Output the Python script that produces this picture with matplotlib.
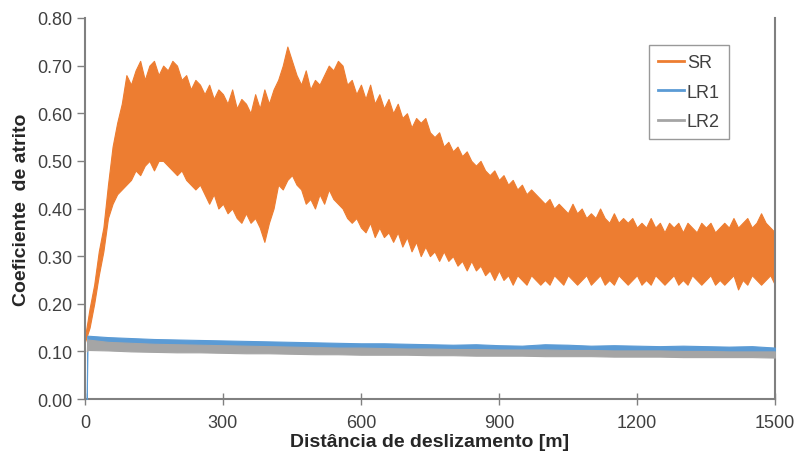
import matplotlib
matplotlib.use("Agg")
import matplotlib.pyplot as plt

plt.rcParams['font.family'] = ['Liberation Sans', 'DejaVu Sans']

# SR band: upper / lower envelope every 10 m
sr_x = list(range(0, 1501, 10))
sr_hi = [0.13, 0.19, 0.24, 0.31, 0.36, 0.45, 0.53, 0.58, 0.62, 0.68,
         0.66, 0.69, 0.71, 0.67, 0.70, 0.71, 0.68, 0.70, 0.69, 0.71,
         0.70, 0.67, 0.68, 0.65, 0.67, 0.66, 0.64, 0.66, 0.63, 0.65,
         0.64, 0.62, 0.65, 0.61, 0.63, 0.62, 0.60, 0.64, 0.61, 0.65,
         0.62, 0.65, 0.67, 0.70, 0.74, 0.71, 0.68, 0.66, 0.69, 0.65,
         0.67, 0.66, 0.68, 0.70, 0.69, 0.71, 0.70, 0.66, 0.67, 0.64,
         0.66, 0.63, 0.66, 0.62, 0.64, 0.61, 0.63, 0.60, 0.62, 0.59,
         0.60, 0.57, 0.59, 0.58, 0.59, 0.56, 0.55, 0.56, 0.53, 0.54,
         0.52, 0.53, 0.51, 0.52, 0.50, 0.49, 0.50, 0.48, 0.47, 0.48,
         0.46, 0.47, 0.45, 0.46, 0.44, 0.45, 0.43, 0.44, 0.43, 0.42,
         0.41, 0.42, 0.40, 0.41, 0.40, 0.39, 0.41, 0.39, 0.40, 0.38,
         0.39, 0.38, 0.40, 0.38, 0.37, 0.39, 0.37, 0.38, 0.37, 0.38,
         0.36, 0.37, 0.36, 0.38, 0.36, 0.37, 0.35, 0.37, 0.36, 0.37,
         0.35, 0.37, 0.36, 0.35, 0.37, 0.36, 0.37, 0.35, 0.36, 0.37,
         0.36, 0.38, 0.36, 0.37, 0.38, 0.36, 0.37, 0.39, 0.37, 0.36,
         0.35]
sr_lo = [0.12, 0.15, 0.20, 0.26, 0.31, 0.38, 0.41, 0.43, 0.44, 0.45,
         0.46, 0.48, 0.47, 0.49, 0.50, 0.48, 0.50, 0.50, 0.49, 0.48,
         0.47, 0.48, 0.46, 0.45, 0.44, 0.45, 0.43, 0.41, 0.43, 0.40,
         0.41, 0.39, 0.40, 0.38, 0.37, 0.39, 0.37, 0.38, 0.36, 0.33,
         0.37, 0.40, 0.45, 0.44, 0.46, 0.47, 0.45, 0.44, 0.41, 0.42,
         0.40, 0.43, 0.41, 0.44, 0.42, 0.41, 0.40, 0.38, 0.37, 0.38,
         0.36, 0.35, 0.37, 0.34, 0.36, 0.34, 0.35, 0.33, 0.35, 0.32,
         0.34, 0.31, 0.33, 0.30, 0.32, 0.30, 0.31, 0.29, 0.31, 0.29,
         0.30, 0.28, 0.29, 0.27, 0.29, 0.27, 0.28, 0.26, 0.27, 0.25,
         0.27, 0.25, 0.26, 0.24, 0.26, 0.25, 0.24, 0.26, 0.25, 0.24,
         0.25, 0.24, 0.26, 0.25, 0.24, 0.26, 0.25, 0.24, 0.25, 0.26,
         0.24, 0.25, 0.26, 0.24, 0.25, 0.24, 0.26, 0.25, 0.24, 0.25,
         0.26, 0.24, 0.25, 0.24, 0.26, 0.25, 0.24, 0.25, 0.26, 0.24,
         0.25, 0.24, 0.26, 0.25, 0.24, 0.25, 0.26, 0.24, 0.25, 0.24,
         0.25, 0.26, 0.23, 0.25, 0.24, 0.26, 0.25, 0.24, 0.25, 0.26,
         0.24]

# LR1 / LR2 bands, every 50 m (first points: start-up of the test)
lr_x = [4, 5] + list(range(50, 1501, 50))
lr1_hi = [0.0, 0.133, 0.130, 0.128, 0.126, 0.125, 0.124, 0.123, 0.122, 0.121,
          0.120, 0.119, 0.118, 0.117, 0.117, 0.116, 0.115, 0.114, 0.115, 0.113,
          0.112, 0.115, 0.114, 0.112, 0.113, 0.112, 0.111, 0.112, 0.111, 0.110,
          0.111, 0.108]
lr1_lo = [0.0, 0.118, 0.117, 0.115, 0.114, 0.113, 0.112, 0.111, 0.110, 0.109,
          0.108, 0.107, 0.106, 0.105, 0.104, 0.104, 0.103, 0.102, 0.102, 0.101,
          0.101, 0.102, 0.101, 0.100, 0.100, 0.099, 0.099, 0.099, 0.098, 0.098,
          0.097, 0.097]
lr2_hi = [0.100, 0.125, 0.120, 0.118, 0.116, 0.115, 0.114, 0.113, 0.112, 0.111,
          0.110, 0.109, 0.108, 0.108, 0.107, 0.106, 0.106, 0.105, 0.105, 0.104,
          0.104, 0.104, 0.103, 0.103, 0.102, 0.102, 0.102, 0.101, 0.101, 0.100,
          0.100, 0.100]
lr2_lo = [0.100, 0.103, 0.102, 0.100, 0.099, 0.098, 0.098, 0.097, 0.096, 0.096,
          0.095, 0.094, 0.094, 0.093, 0.093, 0.093, 0.092, 0.092, 0.091, 0.091,
          0.091, 0.090, 0.090, 0.090, 0.089, 0.089, 0.089, 0.088, 0.088, 0.088,
          0.088, 0.087]

orange, blue, grey = '#ED7D31', '#5B9BD5', '#A5A5A5'
txt = '#404040'

fig = plt.figure(figsize=(7.98, 4.52), dpi=100)
ax = fig.add_axes([0.1065, 0.115, 0.8645, 0.843])

ax.fill_between(sr_x, sr_lo, sr_hi, color=orange, lw=0.8, zorder=2)
ax.fill_between(lr_x, lr1_lo, lr1_hi, color=blue, lw=0.8, zorder=3)
ax.fill_between(lr_x, lr2_lo, lr2_hi, color=grey, lw=0.8, zorder=4)

ax.plot([], [], color=orange, lw=2, label='SR')
ax.plot([], [], color=blue, lw=2, label='LR1')
ax.plot([], [], color=grey, lw=2, label='LR2')

ax.set_xlim(0, 1500)
ax.set_ylim(0, 0.8)
ax.set_xticks([0, 300, 600, 900, 1200, 1500])
ax.set_yticks([i / 10 for i in range(9)])
ax.set_yticklabels(['%.2f' % (i / 10) for i in range(9)])

for s in ['left', 'bottom', 'right']:
    ax.spines[s].set_color('#808080')
    ax.spines[s].set_linewidth(1.5)
ax.spines['top'].set_visible(False)
ax.tick_params(axis='y', direction='out', length=6, width=1, color='#808080',
               labelsize=13, labelcolor=txt, pad=3)
ax.tick_params(axis='x', direction='inout', length=8, width=1, color='#808080',
               labelsize=13, labelcolor=txt, pad=7)
ax.tick_params(axis='y', which='both', right=False)

ax.set_xlabel('Distância de deslizamento [m]', fontsize=14, fontweight='bold',
              color='#262626', labelpad=1)
ax.set_ylabel('Coeficiente  de atrito', fontsize=14, fontweight='bold',
              color='#262626', labelpad=5)

leg = ax.legend(loc='upper right', bbox_to_anchor=(0.9135, 0.898),
                bbox_transform=fig.transFigure, fontsize=13, frameon=True,
                fancybox=False, edgecolor='#808080', handlelength=1.45,
                handletextpad=0.15, labelspacing=0.7, borderpad=0.5,
                borderaxespad=0)
leg.get_frame().set_linewidth(1)
for t in leg.get_texts():
    t.set_color(txt)

fig.savefig('out.png', dpi=100)
